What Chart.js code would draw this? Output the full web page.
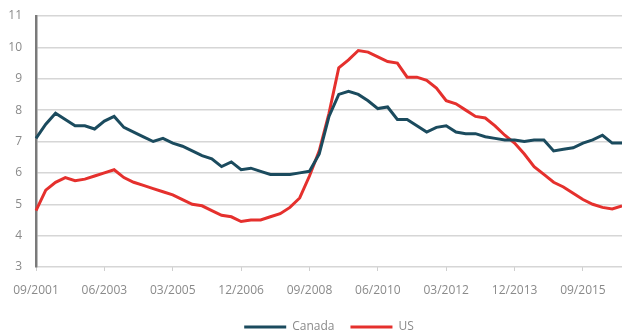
<!DOCTYPE html>
<html>
<head>
<meta charset="utf-8">
<script src="https://cdn.jsdelivr.net/npm/chart.js@4"></script>
<style>
  html, body { margin: 0; padding: 0; background: #ffffff; }
  #wrap { width: 622px; height: 334px; position: relative; }
</style>
</head>
<body>
<div id="wrap"><canvas id="c"></canvas></div>
<script>
// Quarterly unemployment rate (%), Canada vs US
const quarters = [
  "09/2001","12/2001","03/2002","06/2002","09/2002","12/2002","03/2003","06/2003",
  "09/2003","12/2003","03/2004","06/2004","09/2004","12/2004","03/2005","06/2005",
  "09/2005","12/2005","03/2006","06/2006","09/2006","12/2006","03/2007","06/2007",
  "09/2007","12/2007","03/2008","06/2008","09/2008","12/2008","03/2009","06/2009",
  "09/2009","12/2009","03/2010","06/2010","09/2010","12/2010","03/2011","06/2011",
  "09/2011","12/2011","03/2012","06/2012","09/2012","12/2012","03/2013","06/2013",
  "09/2013","12/2013","03/2014","06/2014","09/2014","12/2014","03/2015","06/2015",
  "09/2015","12/2015","03/2016","06/2016","09/2016"
];

const canada = [
  7.1, 7.55, 7.9, 7.7, 7.5, 7.5, 7.4, 7.65,
  7.8, 7.45, 7.3, 7.15, 7.0, 7.1, 6.95, 6.85,
  6.7, 6.55, 6.45, 6.2, 6.35, 6.1, 6.15, 6.05,
  5.95, 5.95, 5.95, 6.0, 6.05, 6.6, 7.8, 8.5,
  8.6, 8.5, 8.3, 8.05, 8.1, 7.7, 7.7, 7.5,
  7.3, 7.45, 7.5, 7.3, 7.25, 7.25, 7.15, 7.1,
  7.05, 7.05, 7.0, 7.05, 7.05, 6.7, 6.75, 6.8,
  6.95, 7.05, 7.2, 6.95, 6.95
];

const us = [
  4.8, 5.45, 5.7, 5.85, 5.75, 5.8, 5.9, 6.0,
  6.1, 5.85, 5.7, 5.6, 5.5, 5.4, 5.3, 5.15,
  5.0, 4.95, 4.8, 4.65, 4.6, 4.45, 4.5, 4.5,
  4.6, 4.7, 4.9, 5.2, 5.9, 6.7, 7.9, 9.35,
  9.6, 9.9, 9.85, 9.7, 9.55, 9.5, 9.05, 9.05,
  8.95, 8.7, 8.3, 8.2, 8.0, 7.8, 7.75, 7.5,
  7.2, 6.95, 6.6, 6.2, 5.95, 5.7, 5.55, 5.35,
  5.15, 5.0, 4.9, 4.85, 4.95
];

const yTicks = [3, 4, 5, 6, 7, 8, 9, 10, 11];
const labelEvery = 7; // one date label every seven quarters

const textGrey = '#8a8a8a';
const fontFamily = '"Open Sans", "Liberation Sans", sans-serif';

new Chart(document.getElementById('c'), {
  type: 'line',
  data: {
    labels: quarters,
    datasets: [
      {
        label: 'Canada',
        data: canada,
        borderColor: '#1b4b5e',
        backgroundColor: '#1b4b5e',
        borderWidth: 3,
        pointRadius: 0,
        tension: 0
      },
      {
        label: 'US',
        data: us,
        borderColor: '#e5302d',
        backgroundColor: '#e5302d',
        borderWidth: 3,
        pointRadius: 0,
        tension: 0
      }
    ]
  },
  options: {
    responsive: true,
    maintainAspectRatio: false,
    animation: false,
    layout: { autoPadding: false, padding: { top: 16, right: 0, bottom: -9, left: 0 } },
    plugins: {
      tooltip: { enabled: false },
      legend: {
        position: 'bottom',
        fullSize: false,
        labels: {
          color: textGrey,
          font: { family: fontFamily, size: 12 },
          boxWidth: 42,
          boxHeight: 3,
          padding: 16,
          generateLabels(chart) {
            return chart.data.datasets.map((ds, i) => ({
              text: ds.label,
              fillStyle: ds.borderColor,
              strokeStyle: ds.borderColor,
              lineWidth: 0,
              hidden: !chart.isDatasetVisible(i),
              datasetIndex: i,
              fontColor: textGrey
            }));
          }
        }
      }
    },
    scales: {
      x: {
        type: 'category',
        offset: false,
        border: { display: false },
        grid: {
          drawOnChartArea: false,
          drawTicks: true,
          tickLength: 4,
          lineWidth: 1,
          color: (ctx) => (ctx.index % labelEvery === 0 ? '#cfcfcf' : 'rgba(0,0,0,0)')
        },
        ticks: {
          autoSkip: false,
          maxRotation: 0,
          minRotation: 0,
          padding: 12,
          color: textGrey,
          font: { family: fontFamily, size: 12 },
          callback(value, index) {
            return index % labelEvery === 0 ? quarters[index] : '';
          }
        },
        afterFit(scale) {
          scale.height = 38;
          scale.paddingLeft = 0;
          scale.paddingRight = 0;
        }
      },
      y: {
        min: yTicks[0],
        max: yTicks[yTicks.length - 1],
        border: { display: true, color: '#7a7a7a', width: 2.5 },
        grid: {
          drawTicks: false,
          color: '#d6d6d6',
          lineWidth: 1.5
        },
        afterBuildTicks(scale) {
          scale.ticks = yTicks.map(v => ({ value: v }));
        },
        ticks: {
          padding: 14,
          color: textGrey,
          font: { family: fontFamily, size: 12 }
        },
        afterFit(scale) {
          scale.width = 36;
          scale.paddingTop = 0;
          scale.paddingBottom = 0;
        }
      }
    }
  }
});
</script>
</body>
</html>
